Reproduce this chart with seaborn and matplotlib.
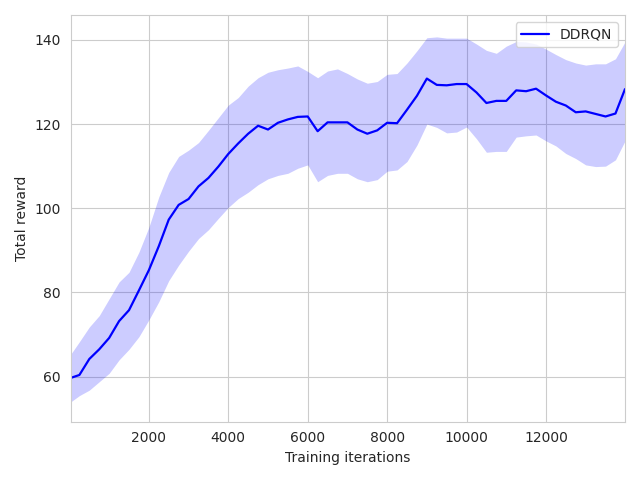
import numpy as np
import pandas as pd
import matplotlib
matplotlib.use("Agg")
import matplotlib.pyplot as plt
import seaborn as sns

iterations = [30, 250, 500, 750, 1000, 1250, 1500, 1750, 2000, 2250, 2500, 2750,
              3000, 3250, 3500, 3750, 4000, 4250, 4500, 4750, 5000, 5250, 5500, 5750,
              6000, 6250, 6500, 6750, 7000, 7250, 7500, 7750, 8000, 8250, 8500, 8750,
              9000, 9250, 9500, 9750, 10000, 10250, 10500, 10750, 11000, 11250, 11500,
              11750, 12000, 12250, 12500, 12750, 13000, 13250, 13500, 13750, 13990]

mean_reward = [59.7, 60.4, 64.2, 66.5, 69.2, 73.2, 75.8, 80.5, 85.3, 91.0, 97.3, 100.8,
               102.2, 105.2, 107.2, 109.9, 112.9, 115.4, 117.7, 119.6, 118.7, 120.3, 121.1, 121.7,
               121.8, 118.3, 120.4, 120.4, 120.4, 118.7, 117.7, 118.5, 120.3, 120.2, 123.4, 126.7,
               130.8, 129.3, 129.2, 129.5, 129.5, 127.5, 125.0, 125.5, 125.5, 128.0, 127.8,
               128.4, 126.8, 125.3, 124.4, 122.8, 123.0, 122.4, 121.8, 122.5, 128.3]

upper_reward = [65.3, 68.3, 71.8, 74.5, 78.5, 82.5, 84.8, 89.6, 95.5, 102.7, 108.5, 112.3,
                113.8, 115.6, 118.5, 121.5, 124.5, 126.3, 129.0, 131.0, 132.3, 132.9, 133.3, 133.8,
                132.5, 131.0, 132.6, 133.1, 132.0, 130.7, 129.7, 130.1, 131.8, 132.0, 134.5, 137.4,
                140.5, 140.7, 140.4, 140.4, 140.4, 139.0, 137.5, 136.8, 138.5, 139.6, 139.5,
                139.0, 137.8, 136.5, 135.3, 134.5, 134.0, 134.3, 134.3, 135.5, 139.5]

lower_reward = [54.0, 55.5, 56.8, 58.8, 60.8, 64.0, 66.5, 69.5, 73.5, 77.8, 82.8, 86.5,
                89.8, 92.8, 94.9, 97.6, 100.2, 102.3, 103.8, 105.6, 107.0, 107.8, 108.3, 109.5,
                110.3, 106.3, 107.8, 108.3, 108.3, 107.0, 106.3, 106.8, 108.8, 109.1, 111.1, 115.0,
                120.0, 119.2, 117.9, 118.1, 119.3, 116.5, 113.3, 113.5, 113.5, 116.9, 117.2,
                117.4, 116.0, 114.8, 113.0, 111.8, 110.3, 109.9, 110.0, 111.5, 116.0]

df = pd.DataFrame({"iter": iterations, "mean": mean_reward,
                   "lo": lower_reward, "hi": upper_reward})

sns.set_style("whitegrid")
fig, ax = plt.subplots(figsize=(6.4, 4.8), dpi=100)
ax.fill_between(df["iter"], df["lo"], df["hi"], color="b", alpha=0.2, linewidth=0)
sns.lineplot(data=df, x="iter", y="mean", color="b", label="DDRQN", ax=ax, linewidth=1.6)
ax.set_xlim(df["iter"].iloc[0], df["iter"].iloc[-1])
ax.set_ylim(49.3, 145.9)
ax.set_xlabel("Training iterations")
ax.set_ylabel("Total reward")
ax.legend(loc="upper right")
fig.tight_layout()
fig.savefig("out.png", dpi=100)
